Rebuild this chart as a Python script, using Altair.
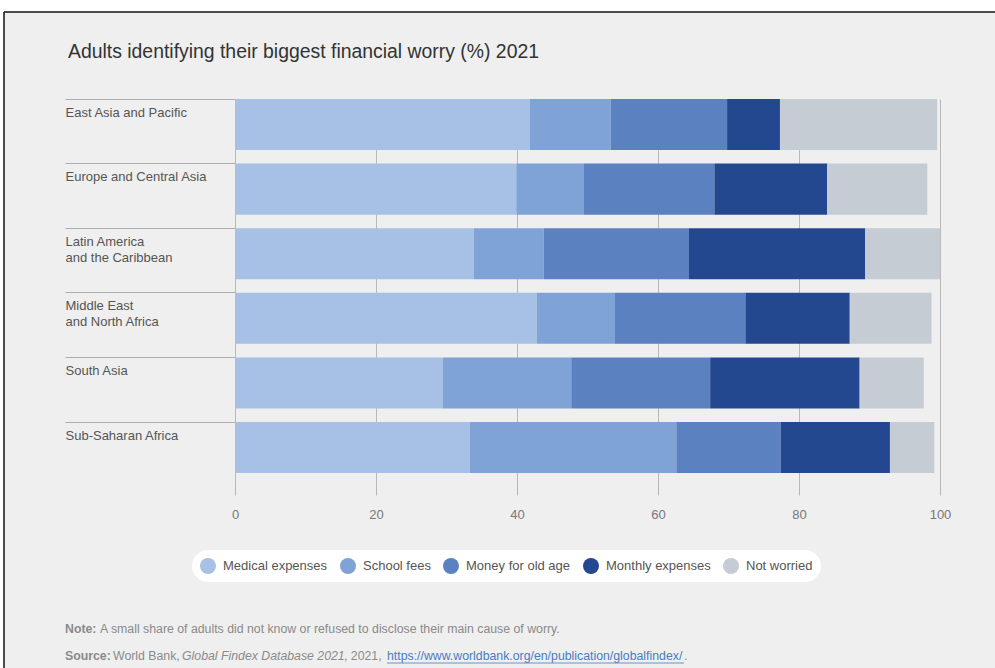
import altair as alt
import pandas as pd

regions = ["East Asia and Pacific", "Europe and Central Asia", "Latin America|and the Caribbean",
           "Middle East|and North Africa", "South Asia", "Sub-Saharan Africa"]
categories = ["Medical expenses", "School fees", "Money for old age", "Monthly expenses", "Not worried"]
medical = [41.8, 39.9, 33.9, 42.8, 29.5, 33.3]
school = [11.5, 9.6, 9.9, 11.1, 18.2, 29.3]
old_age = [16.5, 18.5, 20.6, 18.5, 19.7, 14.8]
monthly = [7.5, 16.0, 25.0, 14.8, 21.2, 15.5]
not_worried = [22.3, 14.2, 10.6, 11.6, 9.1, 6.3]
x_ticks = [0, 20, 40, 60, 80, 100]
colors = ["#a7c0e6", "#7fa3d7", "#5c81c1", "#23488f", "#c5ccd4"]

series = [medical, school, old_age, monthly, not_worried]
rows = []
for ci, (cat, vals) in enumerate(zip(categories, series)):
    for r, v in zip(regions, vals):
        rows.append({"region": r, "category": cat, "value": v, "idx": ci})
df = pd.DataFrame(rows)

FONT = "Liberation Sans"

bars = alt.Chart(df).mark_bar().encode(
    x=alt.X("value:Q", stack="zero",
            scale=alt.Scale(domain=[0, 100], nice=False),
            axis=alt.Axis(values=x_ticks, grid=True, gridColor="#b8b8b8", gridWidth=1,
                          domain=False, ticks=False, labelPadding=13, labelFontSize=13,
                          labelColor="#777", title=None, labelFont=FONT, labelFlush=False)),
    y=alt.Y("region:N", sort=regions,
            scale=alt.Scale(paddingInner=0.21, paddingOuter=0.17, align=0),
            axis=alt.Axis(title=None, domain=False, ticks=True, tickSize=170, tickColor="#adadad",
                          tickWidth=1, bandPosition=0, labelAlign="left", labelBaseline="top",
                          labelPadding=0, labelOffset=-18, labelExpr="split(datum.value, '|')",
                          labelFontSize=13, labelColor="#555", labelLineHeight=16,
                          labelFont=FONT, grid=False)),
    color=alt.Color("category:N", sort=categories,
                    scale=alt.Scale(domain=categories, range=colors),
                    legend=alt.Legend(title=None, orient="none", legendX=-43, legendY=451,
                                      direction="horizontal", fillColor="white", cornerRadius=16,
                                      padding=8, symbolType="circle", symbolSize=256,
                                      symbolStrokeWidth=0, symbolOpacity=1, labelFontSize=13,
                                      labelColor="#555", columnPadding=12, labelOffset=7,
                                      labelFont=FONT)),
    order=alt.Order("idx:Q", sort="ascending"),
)

one = alt.Data(values=[{"k": 0}])

def txt(s, x, y, size=12.3, weight="normal", style="normal", color="#8a8a8a"):
    return alt.Chart(one).mark_text(text=s, align="left", baseline="middle", fontSize=size,
                                    fontWeight=weight, fontStyle=style, color=color,
                                    font=FONT).encode(x=alt.value(x), y=alt.value(y))

title = txt("Adults identifying their biggest financial worry (%) 2021", -167, -47, size=19.4,
            color="#333")
note1 = txt("Note:", -170, 530, weight="bold")
note2 = txt("A small share of adults did not know or refused to disclose their main cause of worry.",
            -135, 530)
src1 = txt("Source:", -170, 557, weight="bold")
src2 = txt("World Bank,", -122, 557)
src3 = txt("Global Findex Database 2021", -53, 557, style="italic")
src4 = txt(", 2021,", 109, 557)
src5 = txt("https://www.worldbank.org/en/publication/globalfindex/", 152, 557, color="#4a7cc0")
src6 = txt(".", 449, 557)
underline = alt.Chart(one).mark_rule(color="#4a7cc0", strokeWidth=0.8).encode(
    x=alt.value(152), x2=alt.value(449), y=alt.value(564))

# screenshot frame
top_white = alt.Chart(one).mark_rect(color="white").encode(
    x=alt.value(-235), x2=alt.value(760), y=alt.value(-99), y2=alt.value(-87))
left_white = alt.Chart(one).mark_rect(color="white").encode(
    x=alt.value(-235), x2=alt.value(-231), y=alt.value(-99), y2=alt.value(569))
top_line = alt.Chart(one).mark_rule(color="#111", strokeWidth=1.5).encode(
    x=alt.value(-231), x2=alt.value(760), y=alt.value(-87))
left_line = alt.Chart(one).mark_rule(color="#111", strokeWidth=1.5).encode(
    x=alt.value(-231), y=alt.value(-87), y2=alt.value(569))

chart = alt.layer(bars, title, note1, note2, src1, src2, src3, src4, src5, src6, underline,
                  top_white, left_white, top_line, left_line).properties(
    width=705, height=396,
    autosize=alt.AutoSizeParams(type="none"),
    padding={"left": 235, "top": 99, "right": 55, "bottom": 173},
    background="#efefef",
).configure_view(stroke=None)

chart.save("out.html", embed_options={"renderer": "svg", "actions": False})
